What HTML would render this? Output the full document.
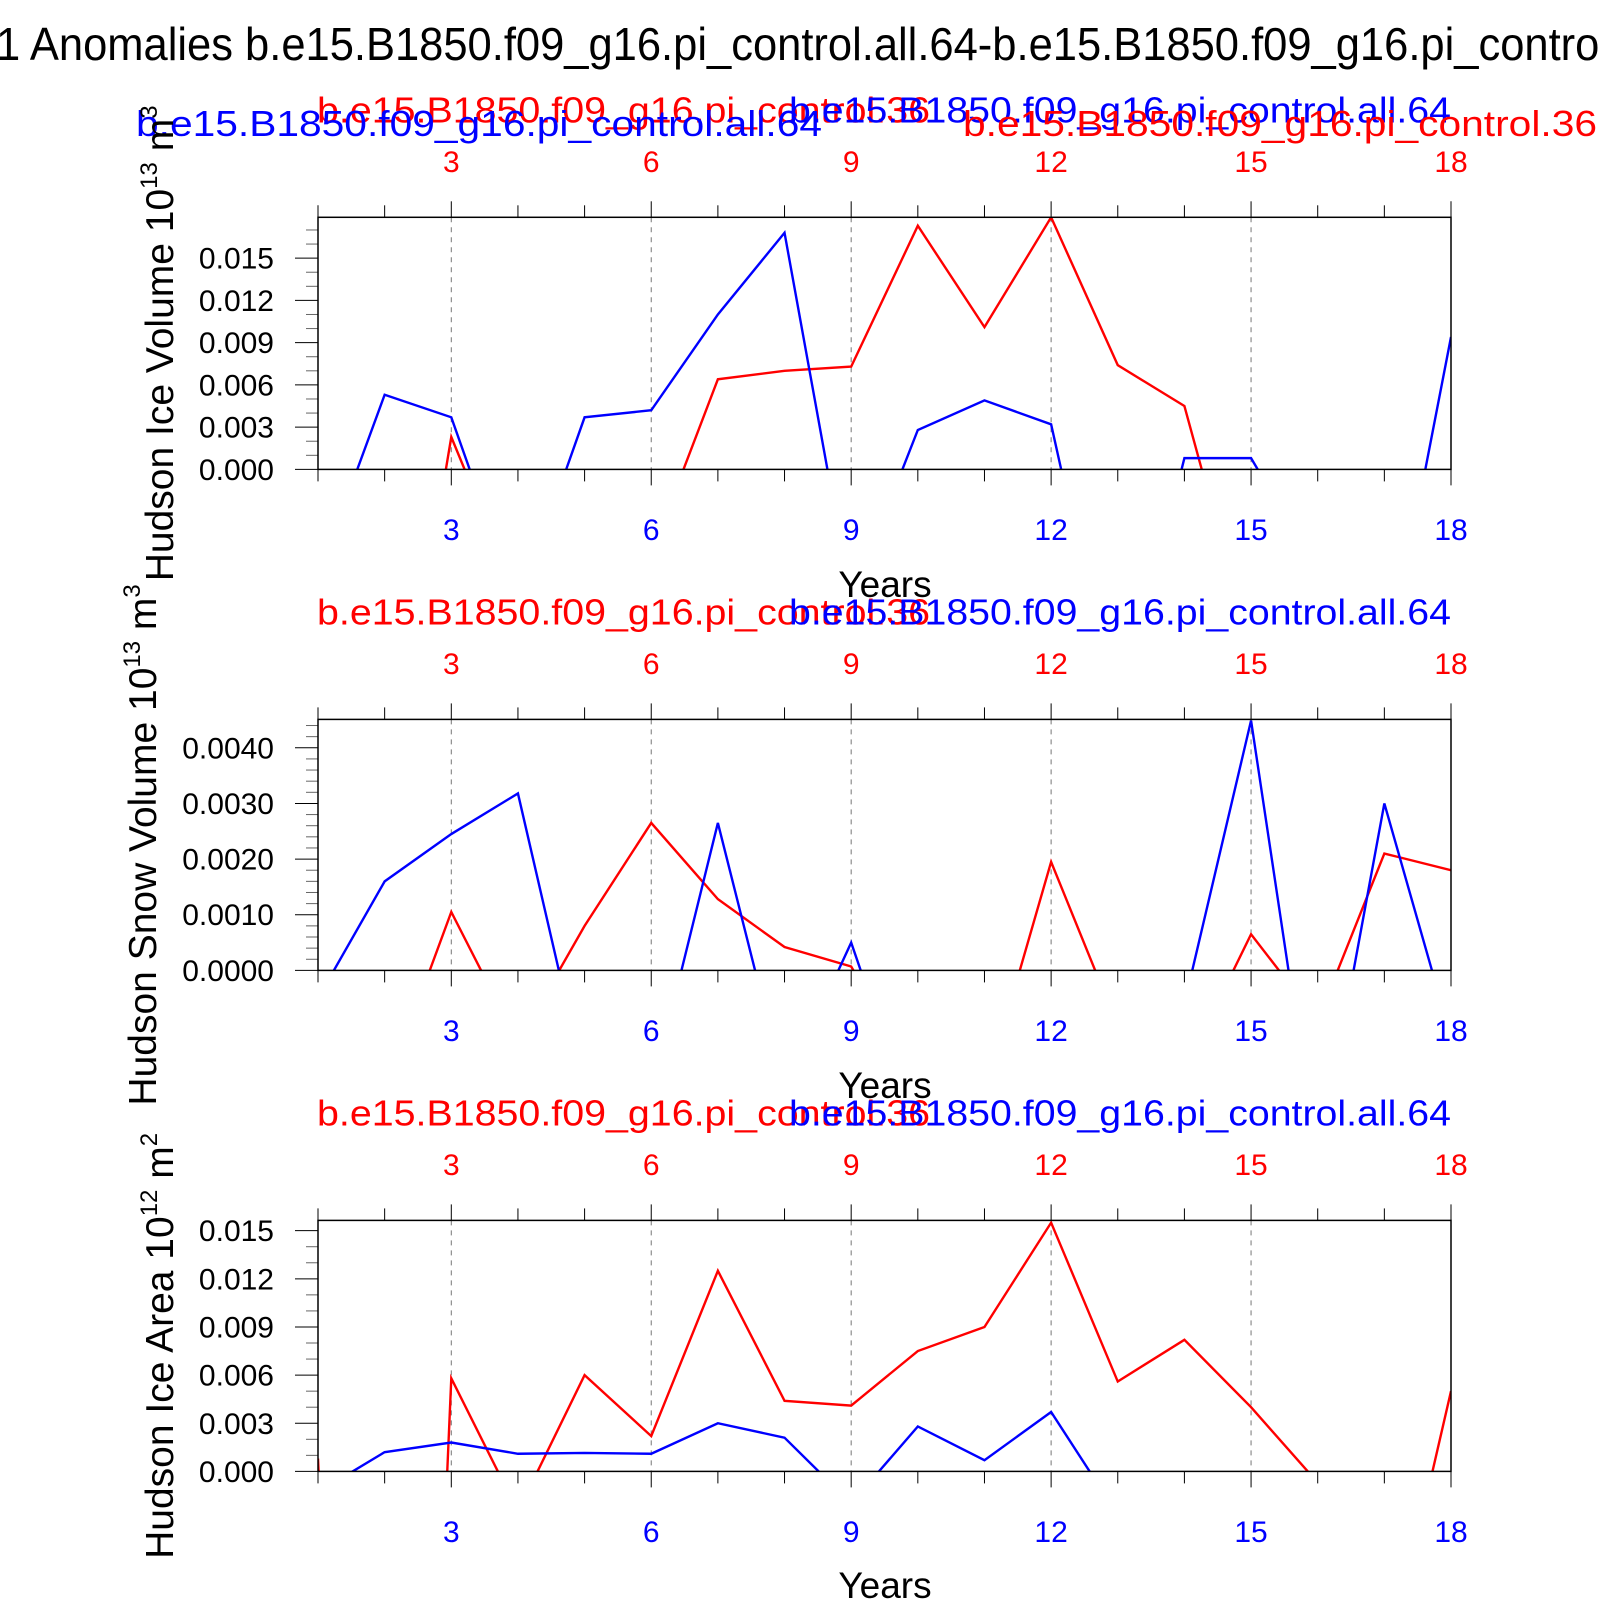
<!DOCTYPE html>
<html><head><meta charset="utf-8">
<style>
html,body{margin:0;padding:0;background:#fff;overflow:hidden;}
svg{display:block;font-family:"Liberation Sans",Arial,sans-serif;}
</style></head>
<body>
<svg id="chart" width="1600" height="1600" viewBox="0 0 1600 1600" xmlns="http://www.w3.org/2000/svg">
<text x="-4" y="60" font-size="46" textLength="1613" lengthAdjust="spacingAndGlyphs">1 Anomalies b.e15.B1850.f09_g16.pi_control.all.64-b.e15.B1850.f09_g16.pi_control</text>
</svg>
<script>
const years = [1,2,3,4,5,6,7,8,9,10,11,12,13,14,15,16,17,18];
const xTickValues = [3,6,9,12,15,18];
const iceVolBlue = [-0.0076,0.0053,0.0037,-0.0097,0.0037,0.0042,0.011,0.0168,-0.0093,0.0028,0.0049,0.0032,-0.018,0.0008,0.0008,-0.0072,-0.015,0.0094];
const iceVolRed = [-0.03,-0.026,0.0023,-0.0092,-0.01,-0.006,0.0064,0.007,0.0073,0.0173,0.0101,0.0179,0.0074,0.0045,-0.0128,-0.01,-0.01,-0.01];
const snowVolBlue = [-0.0005,0.0016,0.00245,0.00318,-0.002,-0.0022,0.00265,-0.0021,0.0005,-0.003,-0.003,-0.003,-0.003,-0.0006,0.00449,-0.0035,0.003,-0.0012];
const snowVolRed = [-0.003,-0.0022,0.00105,-0.0013,0.0008,0.00265,0.00128,0.00042,0.00007,-0.002,-0.0022,0.00195,-0.001,-0.0018,0.00065,-0.0009,0.0021,0.0018];
const iceAreaBlue = [-0.0013,0.0012,0.0018,0.0011,0.00115,0.0011,0.003,0.0021,-0.002,0.0028,0.0007,0.0037,-0.0027,-0.003,-0.003,-0.003,-0.003,-0.003];
const iceAreaRed = [0.0008,-0.09,0.0058,-0.0025,0.006,0.0022,0.0125,0.0044,0.0041,0.0075,0.009,0.0155,0.0056,0.0082,0.004,-0.0007,-0.013,0.005];
const iceVolTicks = ["0.000","0.003","0.006","0.009","0.012","0.015"];
const snowVolTicks = ["0.0000","0.0010","0.0020","0.0030","0.0040"];
const iceAreaTicks = ["0.000","0.003","0.006","0.009","0.012","0.015"];

const NS="http://www.w3.org/2000/svg";
const svg=document.getElementById('chart');
function mk(tag,attrs,parent){const e=document.createElementNS(NS,tag);for(const k in attrs)e.setAttribute(k,attrs[k]);(parent||svg).appendChild(e);return e;}
const X0=318, X1=1451, XMIN=1, XMAX=18;
function xs(v){return X0+(v-XMIN)/(XMAX-XMIN)*(X1-X0);}
const RED="#ff0000", BLUE="#0000ff";
const LBL="b.e15.B1850.f09_g16.pi_control.36", LBLB="b.e15.B1850.f09_g16.pi_control.all.64";

const panels=[
 {key:"ice-volume",top:217.3,bot:469.4,ymax:0.0179,minor:0.001,ticks:iceVolTicks,blue:iceVolBlue,red:iceVolRed,sub:122.5,ytl:172,ybl:540,years:597,ylx:173,label:"Hudson Ice Volume 10",exp:"13",unit:" m",uexp:"3",extra:true},
 {key:"snow-volume",top:719.4,bot:970.4,ymax:0.00451,minor:0.0002,ticks:snowVolTicks,blue:snowVolBlue,red:snowVolRed,sub:624.5,ytl:674,ybl:1041,years:1098,ylx:156,label:"Hudson Snow Volume 10",exp:"13",unit:" m",uexp:"3"},
 {key:"ice-area",top:1220.4,bot:1471.4,ymax:0.01564,minor:0.001,ticks:iceAreaTicks,blue:iceAreaBlue,red:iceAreaRed,sub:1125.5,ytl:1175,ybl:1542,years:1598,ylx:173,label:"Hudson Ice Area 10",exp:"12",unit:" m",uexp:"2"}
];

panels.forEach((p,pi)=>{
 const g=mk('g',{});
 
 
 const ys=v=>p.bot-(v/p.ymax)*(p.bot-p.top);
 const cid='clip'+pi;
 const cp=mk('clipPath',{id:cid},g);
 mk('rect',{x:X0,y:p.top,width:X1-X0,height:p.bot-p.top},cp);
 xTickValues.slice(0,5).forEach(v=>{
  const l=mk('line',{x1:xs(v),x2:xs(v),y1:p.top,y2:p.bot,stroke:"#777","stroke-width":1,"stroke-dasharray":"5,5"},g);
  
  
 });
 years.forEach(v=>{
  const major=v%3===0; const len=major?16:12;
  mk('line',{x1:xs(v),x2:xs(v),y1:p.top,y2:p.top-len,stroke:"#000","stroke-width":1},g);
  mk('line',{x1:xs(v),x2:xs(v),y1:p.bot,y2:p.bot+len,stroke:"#000","stroke-width":1},g);
 });
 xTickValues.forEach(v=>{
  const t=mk('text',{x:xs(v),y:p.ytl,"font-size":30,fill:RED,"text-anchor":"middle"},g);
  t.textContent=v;
  
  
  const b=mk('text',{x:xs(v),y:p.ybl,"font-size":30,fill:BLUE,"text-anchor":"middle"},g);
  b.textContent=v;
  
  
 });
 const step=parseFloat(p.ticks[1]);
 for(let v=0;v<=p.ymax+1e-9;v+=p.minor){
  const yy=ys(v);
  const isMajor=Math.abs(v/step-Math.round(v/step))<1e-6;
  mk('line',{x1:X0,x2:X0-(isMajor?23:12),y1:yy,y2:yy,stroke:isMajor?"#000":"#666","stroke-width":1},g);
 }
 p.ticks.forEach(s=>{
  const t=mk('text',{x:274,y:ys(parseFloat(s))+10.5,"font-size":30,"text-anchor":"end"},g);
  t.textContent=s;
  
  
 });
 [[p.red,RED,'red-series'],[p.blue,BLUE,'blue-series']].forEach(([arr,col,nm])=>{
  const d=arr.map((v,i)=>(i?'L':'M')+xs(years[i]).toFixed(2)+','+ys(v).toFixed(2)).join(' ');
  const path=mk('path',{d:d,fill:"none",stroke:col,"stroke-width":2.4,"clip-path":"url(#"+cid+")","stroke-linejoin":"miter"},g);
  
  
 });
 const fr=mk('rect',{x:X0,y:p.top,width:X1-X0,height:p.bot-p.top,fill:"none",stroke:"#000","stroke-width":1.5},g);
 
 
 const s1=mk('text',{x:317,y:p.sub,"font-size":36,fill:RED,textLength:613,lengthAdjust:"spacingAndGlyphs"},g);
 s1.textContent=LBL;
 
 
 const s2=mk('text',{x:789,y:p.sub,"font-size":36,fill:BLUE,textLength:662,lengthAdjust:"spacingAndGlyphs"},g);
 s2.textContent=LBLB;
 
 
 if(p.extra){
  const s3=mk('text',{x:136,y:136,"font-size":36,fill:BLUE,textLength:686,lengthAdjust:"spacingAndGlyphs"},g);
  s3.textContent=LBLB;
  
  
  const s4=mk('text',{x:963,y:136,"font-size":36,fill:RED,textLength:634,lengthAdjust:"spacingAndGlyphs"},g);
  s4.textContent=LBL;
  
  
 }
 const yt=mk('text',{x:885,y:p.years,"font-size":37,"text-anchor":"middle"},g);
 yt.textContent="Years";
 
 
 const cy=(p.top+p.bot)/2;
 const yl=mk('text',{x:0,y:0,"font-size":39,"text-anchor":"middle",transform:"translate("+p.ylx+","+cy+") rotate(-90)"},g);
 
 
 const a=mk('tspan',{},yl); a.textContent=p.label;
 const b=mk('tspan',{"font-size":24,dy:-16},yl); b.textContent=p.exp;
 const c=mk('tspan',{dy:16},yl); c.textContent=p.unit;
 const d2=mk('tspan',{"font-size":24,dy:-16},yl); d2.textContent=p.uexp;
});
</script>
</body></html>
